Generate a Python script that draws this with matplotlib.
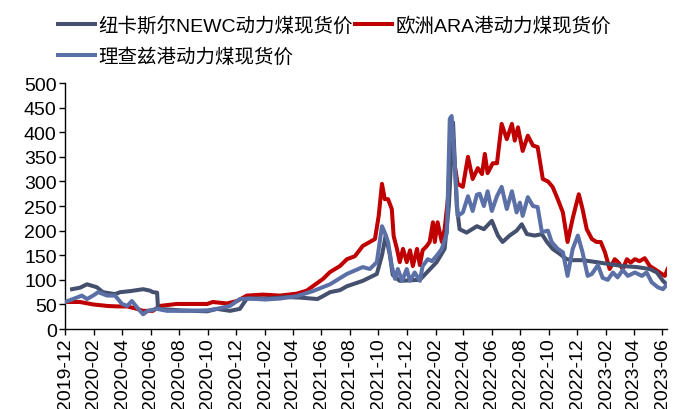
import numpy as np
import pandas as pd
import matplotlib
matplotlib.use("Agg")
from matplotlib import pyplot as plt

# 纽卡斯尔NEWC动力煤现货价
newc_dates = ['2019-12-16', '2020-01-02', '2020-01-17', '2020-02-07', '2020-02-20', '2020-03-17',
              '2020-03-28', '2020-04-18', '2020-05-16', '2020-05-31', '2020-06-06', '2020-06-15',
              '2020-06-17', '2020-08-03', '2020-09-30', '2020-10-21', '2020-11-18', '2020-12-09',
              '2020-12-24', '2021-02-05', '2021-03-20', '2021-04-16', '2021-05-24', '2021-06-05',
              '2021-06-20', '2021-07-11', '2021-07-26', '2021-08-29', '2021-09-28', '2021-10-09',
              '2021-10-17', '2021-10-26', '2021-11-01', '2021-11-16', '2021-12-29', '2022-01-13',
              '2022-02-03', '2022-02-20', '2022-03-01', '2022-03-10', '2022-03-18', '2022-03-24',
              '2022-04-08', '2022-04-30', '2022-05-15', '2022-06-01', '2022-06-14', '2022-06-24',
              '2022-07-09', '2022-07-24', '2022-08-04', '2022-08-15', '2022-09-01', '2022-09-16',
              '2022-09-27', '2022-10-09', '2022-10-24', '2022-11-08', '2022-11-21', '2022-12-12',
              '2023-01-11', '2023-02-08', '2023-03-08', '2023-04-07', '2023-05-05', '2023-05-20',
              '2023-06-02', '2023-06-12']
newc_vals = [81, 84, 91, 85, 75, 71,
             75, 77, 81, 78, 75, 74,
             41, 38, 36, 41, 37, 41,
             62, 62, 65, 64, 61, 67,
             75, 79, 87, 98, 112, 150,
             190, 150, 110, 98, 100, 115,
             136, 163, 250, 420, 250, 203,
             196, 209, 203, 220, 190, 177,
             190, 200, 213, 193, 190, 193,
             177, 163, 153, 142, 140, 140,
             136, 132, 128, 126, 122, 115,
             98, 89]

# 欧洲ARA港动力煤现货价
ara_dates = ['2019-12-01', '2020-01-02', '2020-01-30', '2020-02-29', '2020-03-21', '2020-04-12',
             '2020-05-03', '2020-05-16', '2020-06-06', '2020-06-21', '2020-07-27', '2020-08-31',
             '2020-09-30', '2020-10-12', '2020-11-11', '2020-12-03', '2020-12-24', '2021-01-27',
             '2021-03-05', '2021-04-10', '2021-05-01', '2021-05-14', '2021-06-05', '2021-06-20',
             '2021-07-11', '2021-07-26', '2021-08-12', '2021-08-29', '2021-09-13', '2021-09-24',
             '2021-10-02', '2021-10-09', '2021-10-15', '2021-10-22', '2021-10-30', '2021-11-03',
             '2021-11-10', '2021-11-16', '2021-11-23', '2021-12-01', '2021-12-08', '2021-12-14',
             '2021-12-23', '2021-12-29', '2022-01-04', '2022-01-13', '2022-01-19', '2022-01-26',
             '2022-01-30', '2022-02-05', '2022-02-14', '2022-02-20', '2022-02-27', '2022-03-05',
             '2022-03-14', '2022-03-20', '2022-03-31', '2022-04-11', '2022-04-21', '2022-05-02',
             '2022-05-11', '2022-05-17', '2022-05-23', '2022-06-03', '2022-06-12', '2022-06-22',
             '2022-07-03', '2022-07-14', '2022-07-20', '2022-07-27', '2022-08-06', '2022-08-17',
             '2022-08-28', '2022-09-07', '2022-09-18', '2022-09-29', '2022-10-09', '2022-10-20',
             '2022-10-31', '2022-11-10', '2022-11-21', '2022-12-04', '2022-12-12', '2022-12-21',
             '2023-01-01', '2023-01-11', '2023-01-20', '2023-01-29', '2023-02-08', '2023-02-19',
             '2023-02-27', '2023-03-08', '2023-03-17', '2023-03-25', '2023-04-03', '2023-04-13',
             '2023-04-24', '2023-05-05', '2023-05-15', '2023-05-26', '2023-06-06', '2023-06-12']
ara_vals = [55, 55, 50, 47, 46, 46,
            41, 37, 37, 47, 51, 51,
            51, 55, 52, 57, 68, 70,
            68, 72, 78, 87, 102, 116,
            128, 142, 148, 169, 177, 183,
            230, 295, 264, 264, 244, 189,
            163, 136, 163, 136, 160, 128,
            163, 130, 160, 169, 177, 217,
            177, 217, 177, 203, 264, 390,
            330, 295, 289, 350, 305, 327,
            315, 356, 317, 337, 337, 417,
            386, 417, 383, 410, 362, 393,
            373, 370, 305, 300, 289, 264,
            237, 177, 225, 274, 244, 203,
            183, 177, 177, 156, 122, 142,
            135, 122, 142, 135, 142, 138,
            144, 128, 122, 115, 108, 122]

# 理查兹港动力煤现货价
rb_dates = ['2019-12-01', '2019-12-18', '2020-01-06', '2020-01-17', '2020-01-30', '2020-02-10',
            '2020-02-29', '2020-03-17', '2020-04-01', '2020-04-12', '2020-04-22', '2020-05-03',
            '2020-05-16', '2020-05-26', '2020-06-15', '2020-07-06', '2020-08-18', '2020-09-30',
            '2020-10-21', '2020-11-18', '2020-12-09', '2020-12-31', '2021-02-01', '2021-03-05',
            '2021-04-10', '2021-05-14', '2021-06-20', '2021-07-26', '2021-08-29', '2021-09-13',
            '2021-09-28', '2021-10-09', '2021-10-15', '2021-10-22', '2021-10-30', '2021-11-06',
            '2021-11-12', '2021-11-21', '2021-12-01', '2021-12-08', '2021-12-18', '2021-12-29',
            '2022-01-04', '2022-01-15', '2022-01-24', '2022-02-03', '2022-02-14', '2022-02-25',
            '2022-03-03', '2022-03-07', '2022-03-14', '2022-03-20', '2022-03-31', '2022-04-11',
            '2022-04-21', '2022-04-30', '2022-05-06', '2022-05-15', '2022-05-23', '2022-06-01',
            '2022-06-12', '2022-06-22', '2022-07-03', '2022-07-14', '2022-07-24', '2022-07-31',
            '2022-08-06', '2022-08-17', '2022-08-28', '2022-09-07', '2022-09-16', '2022-09-29',
            '2022-10-07', '2022-10-20', '2022-10-31', '2022-11-10', '2022-11-21', '2022-12-02',
            '2022-12-12', '2022-12-23', '2023-01-01', '2023-01-14', '2023-01-24', '2023-02-04',
            '2023-02-15', '2023-02-25', '2023-03-08', '2023-03-19', '2023-04-03', '2023-04-18',
            '2023-04-28', '2023-05-09', '2023-05-22', '2023-06-02', '2023-06-12']
rb_vals = [55, 61, 68, 61, 68, 75,
           68, 68, 51, 47, 57, 44,
           30, 37, 41, 37, 37, 38,
           41, 47, 61, 62, 60, 62,
           67, 77, 91, 112, 126, 122,
           136, 209, 196, 177, 128, 102,
           122, 98, 122, 98, 115, 98,
           128, 142, 138, 149, 163, 196,
           427, 433, 331, 230, 237, 270,
           240, 273, 275, 250, 280, 240,
           270, 289, 244, 280, 237, 257,
           230, 268, 250, 248, 197, 200,
           177, 163, 156, 108, 163, 190,
           156, 108, 112, 130, 104, 100,
           115, 105, 120, 108, 115, 108,
           115, 95, 85, 81, 92]

labels = ['纽卡斯尔NEWC动力煤现货价', '欧洲ARA港动力煤现货价', '理查兹港动力煤现货价']
colors = ['#44506E', '#C00000', '#5B70A6']

plt.rcParams['font.family'] = ['Liberation Sans', 'Noto Sans CJK SC', 'DejaVu Sans']

fig = plt.figure(figsize=(6.73, 4.10), dpi=100)
ax = fig.add_axes([0.0966, 0.195, 0.894, 0.60])

lw = 2.9
l2, = ax.plot(pd.to_datetime(ara_dates), ara_vals, color=colors[1], lw=lw, label=labels[1], zorder=2)
l1, = ax.plot(pd.to_datetime(newc_dates), newc_vals, color=colors[0], lw=lw, label=labels[0], zorder=3)
l3, = ax.plot(pd.to_datetime(rb_dates), rb_vals, color=colors[2], lw=lw, label=labels[2], zorder=4)

ticks = pd.date_range('2019-12-01', '2023-06-01', freq='2MS')
ax.set_xticks(ticks)
ax.set_xticklabels([t.strftime('%Y-%m') for t in ticks], rotation=90)
ax.set_xlim(pd.Timestamp('2019-12-01'), pd.Timestamp('2023-06-10'))
ax.set_ylim(0, 500)
ax.set_yticks(np.arange(0, 501, 50))

for s in ['top', 'right']:
    ax.spines[s].set_visible(False)
for s in ['left', 'bottom']:
    ax.spines[s].set_color('black')
    ax.spines[s].set_linewidth(1.0)
ax.tick_params(axis='both', labelsize=14, colors='black', length=4, width=1, pad=2)

# legend: 2 columns, filled column by column
fig.legend([l1, l3, l2], [labels[0], labels[2], labels[1]], ncol=2, loc='upper left',
           bbox_to_anchor=(0.06, 1.0), frameon=False, fontsize=14,
           handlelength=1.9, handletextpad=0.2, columnspacing=0.1, labelspacing=0.6)

fig.savefig('out.png', dpi=100)
